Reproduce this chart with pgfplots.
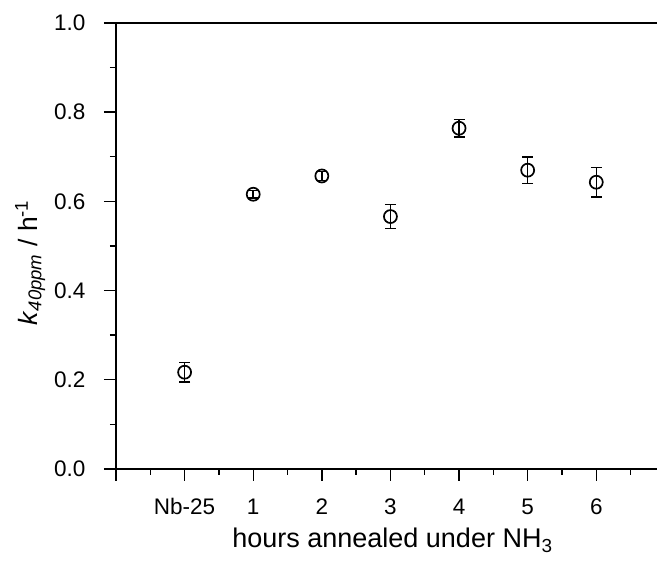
\documentclass[border=0pt]{standalone}
\usepackage{pgfplots}
\pgfplotsset{compat=1.18}
\usepackage{pgfplotstable}
\usepackage{fontspec}
\setmainfont{Liberation Sans}
\pgfplotstableread{
x y err
0 0.217 0.022
1 0.616 0.008
2 0.657 0.010
3 0.566 0.027
4 0.764 0.020
5 0.670 0.030
6 0.643 0.033
}\datatable
\begin{document}
\begin{tikzpicture}
\begin{axis}[
  scale only axis, width=541pt, height=446pt,
  xmin=-1, xmax=6.885, ymin=0, ymax=1,
  axis x line=box, axis y line*=left,
  axis line style={line width=1.4pt},
  every tick/.style={line width=1.4pt, black},
  tick align=outside,
  xtick pos=bottom, ytick pos=left,
  major tick length=12pt, minor tick length=6pt,
  xtick={-1,0,1,2,3,4,5,6,7},
  xticklabels={,Nb-25,1,2,3,4,5,6,},
  minor x tick num=1,
  ytick={0,0.2,0.4,0.6,0.8,1.0},
  minor y tick num=1,
  /pgf/number format/fixed,
  /pgf/number format/fixed zerofill,
  /pgf/number format/precision=1,
  /pgf/number format/assume math mode=true,
  xticklabel style={font=\fontsize{22.5}{26}\selectfont, yshift=-14pt},
  yticklabel style={font=\fontsize{22.5}{26}\selectfont, xshift=-15pt},
  xlabel style={font=\fontsize{27}{31}\selectfont, at={(axis description cs:0.5,0)}, anchor=base, xshift=6pt, yshift=-79pt},
  ylabel style={font=\fontsize{26.5}{30}\selectfont, at={(axis description cs:-0.146,0.462)}, anchor=base},
  xlabel={hours annealed under NH\textsubscript{3}},
  ylabel={\textit{k}\textsubscript{\textit{40ppm}} / h\textsuperscript{-1}},
  clip=false,
]
\coordinate (sw) at (rel axis cs:0,0);
\addplot[black, only marks, mark=o, mark size=6.5pt,
  mark options={fill=white, line width=1.7pt},
  error bars/.cd, y dir=both, y explicit,
  error bar style={line width=1.5pt},
  error mark options={rotate=90, mark size=5.5pt, line width=1.5pt}]
  table[x=x, y=y, y error=err] {\datatable};
\end{axis}
\pgfresetboundingbox
\path (sw) ++(-116pt,-92pt) rectangle ++(657pt,561pt);
\end{tikzpicture}
\end{document}
